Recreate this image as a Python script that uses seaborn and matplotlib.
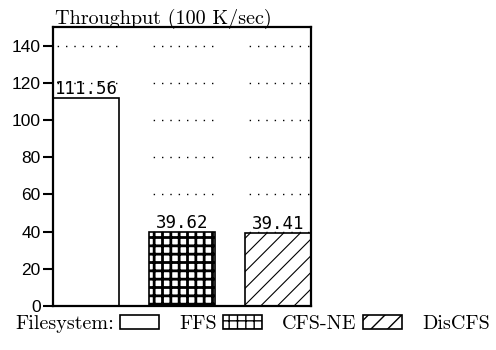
import matplotlib
matplotlib.use("Agg")
import matplotlib.pyplot as plt
import matplotlib.patches as mpatches
import seaborn as sns

systems = ["FFS", "CFS-NE", "DisCFS"]
throughput = [111.56, 39.62, 39.41]
hatches = ["", "++", "//"]
hatch_widths = [1.0, 2.0, 0.8]
yticks = [0, 20, 40, 60, 80, 100, 120, 140]
legend_labels = ["Filesystem:", "FFS", "CFS-NE", "DisCFS"]

sns.set_style("ticks")
plt.rcParams["hatch.color"] = "black"
plt.rcParams["text.color"] = "black"

fig = plt.figure(figsize=(4.96, 3.5), dpi=100)
ax = fig.add_axes([0.107, 0.126, 0.52, 0.797])

bw = 0.69
sns.barplot(x=systems, y=throughput, hue=systems, palette=["white"] * 3,
            width=bw, edgecolor="black", linewidth=1.2, legend=False,
            ax=ax, zorder=2)

for patch, h, hw in zip(ax.patches, hatches, hatch_widths):
    patch.set_hatch(h)
    if hasattr(patch, "set_hatch_linewidth"):
        patch.set_hatch_linewidth(hw)

# dotted grid only over the bar columns
for i in range(len(systems)):
    ax.hlines(yticks[1:], i - bw / 2, i + bw / 2, colors="black",
              linewidth=1.0, linestyles=(3, (1, 5)), zorder=1)

for cont in ax.containers:
    ax.bar_label(cont, fmt="%.2f", padding=0, fontsize=12.5, color="black",
                 family="DejaVu Sans Mono", zorder=3)

ax.set_xlim(-0.345, 2.345)
ax.set_ylim(0, 150)
ax.set_yticks(yticks)
ax.set_yticklabels([str(v) for v in yticks], fontsize=12.5,
                   family="Liberation Sans")
ax.set_xticks([])
ax.tick_params(axis="y", direction="out", length=7, width=1.5, pad=2,
               colors="black")
for s in ax.spines.values():
    s.set_visible(True)
    s.set_linewidth(1.6)
    s.set_color("black")

fig.text(0.111, 1 - 24 / 350, "Throughput (100 K/sec)", family="cmr10",
         fontsize=14.5, va="baseline", ha="left")

handles = []
for h, hw in zip(hatches, hatch_widths):
    p = mpatches.Patch(facecolor="white", edgecolor="black", hatch=h, linewidth=1.2)
    if hasattr(p, "set_hatch_linewidth"):
        p.set_hatch_linewidth(hw)
    handles.append(p)
handles.append(mpatches.Patch(facecolor="none", edgecolor="none"))
fig.legend(handles, legend_labels, loc="center left", bbox_to_anchor=(15 / 496, 1 - 324 / 350),
           ncol=4, frameon=False, markerfirst=False, prop={"family": "cmr10", "size": 14.5},
           handlelength=1.95, handleheight=0.65, handletextpad=0.3, columnspacing=1.0,
           borderpad=0, borderaxespad=0)

fig.savefig("out.png", dpi=100)
